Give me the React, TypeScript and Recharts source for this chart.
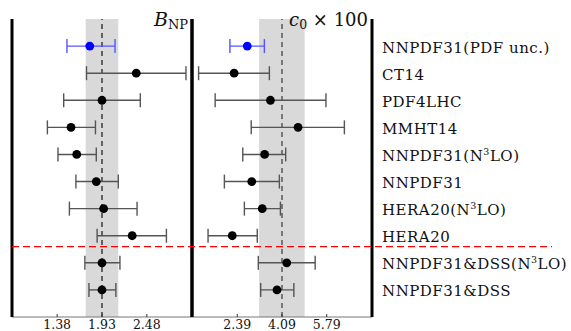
import React from 'react';
import { ScatterChart, Scatter, XAxis, YAxis, ErrorBar, ReferenceArea, ReferenceLine } from 'recharts';

const labels = [
  'NNPDF31(PDF unc.)', 'CT14', 'PDF4LHC', 'MMHT14', 'NNPDF31(N3LO)', 'NNPDF31',
  'HERA20(N3LO)', 'HERA20', 'NNPDF31&DSS(N3LO)', 'NNPDF31&DSS',
];
const bnp = [1.78, 2.35, 1.93, 1.55, 1.62, 1.86, 1.95, 2.30, 1.93, 1.93];
const bnpLow = [1.50, 1.74, 1.46, 1.26, 1.39, 1.61, 1.53, 1.87, 1.72, 1.77];
const bnpHigh = [2.09, 2.96, 2.40, 1.85, 1.86, 2.13, 2.36, 2.72, 2.15, 2.10];
const c0 = [2.77, 2.27, 3.65, 4.70, 3.43, 2.94, 3.34, 2.20, 4.27, 3.90];
const c0Low = [2.11, 0.92, 1.55, 2.92, 2.60, 1.90, 2.66, 1.28, 3.19, 3.28];
const c0High = [3.42, 3.61, 5.76, 6.46, 4.23, 3.99, 4.03, 3.15, 5.35, 4.54];

const bnpTicks = [1.38, 1.93, 2.48];
const c0Ticks = [2.39, 4.09, 5.79];
const bnpDomain = [0.826, 3.034];
const c0Domain = [0.67, 7.51];
const bnpBand = [1.73, 2.13];
const c0Band = [3.22, 4.95];
const bnpCentral = 1.93;
const c0Central = 4.09;
const separatorRow = 7.4;
const rowTicks = [0, 1, 2, 3, 4, 5, 6, 7, 8, 9];
const rowDomain = [-1, 10];

const FONT = '"DejaVu Serif", serif';
const W = 571;
const H = 331;

const build = (vals: number[], lo: number[], hi: number[]) =>
  vals.map((v, i) => ({ x: v, y: i, err: [v - lo[i], hi[i] - v] }));

const bnpData = build(bnp, bnpLow, bnpHigh);
const c0Data = build(c0, c0Low, c0High);

const XTick = (props: any) => {
  const { x, y, payload } = props;
  return (
    <g>
      <line x1={x} x2={x} y1={y - 3} y2={y} stroke="#333" strokeWidth={1} />
      <text x={x} y={y + 12} textAnchor="middle" fontFamily={FONT} fontSize={12.5} fill="#111">
        {Number(payload.value).toFixed(2)}
      </text>
    </g>
  );
};

const LabelTick = (props: any) => {
  const { x, y, payload } = props;
  const label: string = labels[payload.value] ?? '';
  const idx = label.indexOf('N3LO');
  let content: React.ReactNode = label;
  if (idx >= 0) {
    content = [
      <tspan key="a">{label.slice(0, idx + 1)}</tspan>,
      <tspan key="b" dy={-6} fontSize={9.5}>3</tspan>,
      <tspan key="c" dy={6}>{label.slice(idx + 2)}</tspan>,
    ];
  }
  return (
    <text x={x + 10} y={y + 6.5} textAnchor="start" fontFamily={FONT} fontSize={15} letterSpacing={0.5} fill="#111">
      {content}
    </text>
  );
};

const dot = (color: string) => (p: any) => <circle cx={p.cx} cy={p.cy} r={4.4} fill={color} />;
const none = () => <g />;

const borderAxis = { stroke: '#000', strokeWidth: 3 };

function Panel(props: {
  data: any[]; domain: number[]; ticks: number[]; band: number[]; central: number;
  margin: any; rightWidth: number; labelsOn: boolean; dashColor: string;
}) {
  const { data, domain, ticks, band, central, margin, rightWidth, labelsOn, dashColor } = props;
  return (
    <div style={{ position: 'absolute', left: 0, top: 0 }}>
      <ScatterChart width={W} height={H} margin={margin}>
        <XAxis
          type="number" dataKey="x" domain={domain} ticks={ticks} allowDataOverflow
          height={14} tickSize={0} tickMargin={0} tickLine={false}
          axisLine={{ stroke: '#777', strokeWidth: 1 }} tick={<XTick />} interval={0}
        />
        <YAxis yAxisId="l" type="number" dataKey="y" domain={rowDomain} allowDataOverflow reversed width={1}
          tick={false} tickLine={false} axisLine={borderAxis} />
        <YAxis yAxisId="r" orientation="right" type="number" dataKey="y" domain={rowDomain} allowDataOverflow reversed
          width={rightWidth} ticks={rowTicks} interval={0} tickSize={0} tickMargin={0} tickLine={false}
          tick={labelsOn ? <LabelTick /> : false} axisLine={borderAxis} />
        <ReferenceArea yAxisId="r" x1={band[0]} x2={band[1]} fill="#d9d9d9" fillOpacity={1} stroke="none" />
        <ReferenceLine yAxisId="r" x={central} stroke={dashColor} strokeWidth={1.3} strokeDasharray="5 4" />
        <Scatter yAxisId="l" data={data} shape={none} isAnimationActive={false} />
        <Scatter yAxisId="r" data={data.slice(1)} shape={dot('#000')} isAnimationActive={false}>
          <ErrorBar dataKey="err" direction="x" width={7} stroke="#555" strokeWidth={1.4} isAnimationActive={false} />
        </Scatter>
        <Scatter yAxisId="r" data={data.slice(0, 1)} shape={dot('#0000ff')} isAnimationActive={false}>
          <ErrorBar dataKey="err" direction="x" width={7} stroke="#5555ff" strokeWidth={1.4} isAnimationActive={false} />
        </Scatter>
      </ScatterChart>
    </div>
  );
}

function Separator() {
  return (
    <div style={{ position: 'absolute', left: 0, top: 0, pointerEvents: 'none' }}>
      <ScatterChart width={W} height={H} margin={{ top: 19, left: 12, right: W - 552, bottom: 14 }}>
        <XAxis type="number" dataKey="x" domain={[0, 1]} allowDataOverflow hide />
        <YAxis type="number" dataKey="y" domain={rowDomain} allowDataOverflow reversed hide />
        <Scatter data={[{ x: 0.5, y: 0 }]} shape={none} isAnimationActive={false} />
        <ReferenceLine y={separatorRow} stroke="#ff0000" strokeWidth={1.2} strokeDasharray="7 4" />
      </ScatterChart>
    </div>
  );
}

export default function App() {
  return (
    <div style={{ position: 'fixed', left: 0, top: 0, width: W, height: H, background: '#fff', overflow: 'hidden' }}>
      <Panel data={bnpData} domain={bnpDomain} ticks={bnpTicks} band={bnpBand} central={bnpCentral}
        margin={{ top: 19, left: 11, right: W - 193, bottom: 0 }} rightWidth={1} labelsOn={false} dashColor="#222" />
      <Panel data={c0Data} domain={c0Domain} ticks={c0Ticks} band={c0Band} central={c0Central}
        margin={{ top: 19, left: 191, right: 0, bottom: 0 }} rightWidth={W - 372} labelsOn={true} dashColor="#444" />
      <Separator />
      <svg width={W} height={H} style={{ position: 'absolute', left: 0, top: 0, pointerEvents: 'none' }}>
        <text x={188} y={26} textAnchor="end" fontFamily={FONT} fill="#111">
          <tspan fontSize={19} fontStyle="italic">B</tspan>
          <tspan fontSize={13} dy={3}>NP</tspan>
        </text>
        <text x={368} y={26} textAnchor="end" fontFamily={FONT} fill="#111">
          <tspan fontSize={18} fontStyle="italic">c</tspan>
          <tspan fontSize={12.5} dy={3}>0</tspan>
          <tspan fontSize={18} dy={-3}> × 100</tspan>
        </text>
      </svg>
    </div>
  );
}
